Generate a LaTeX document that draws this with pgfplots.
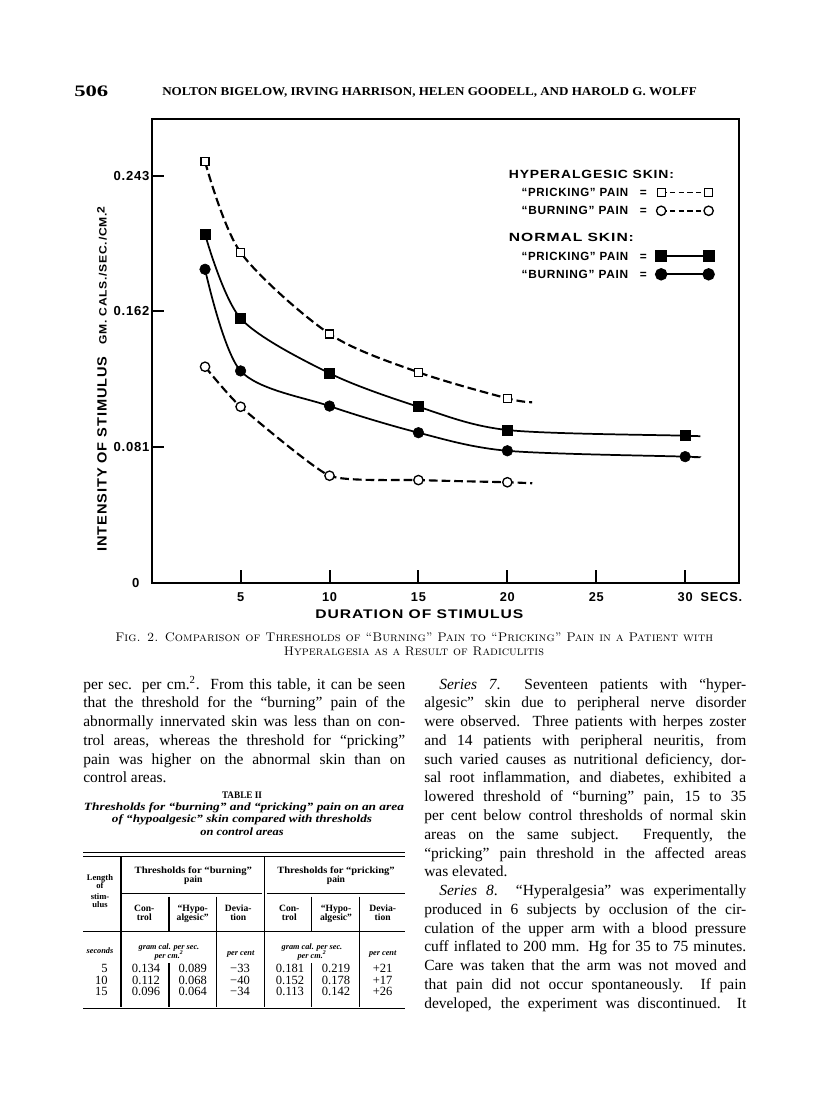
\documentclass[border=0pt]{standalone}
\usepackage{fontspec}
\usepackage{graphicx}
\usepackage{pgfplots}
\pgfplotsset{compat=1.18}
\newfontfamily\chartfont[LetterSpace=6]{Liberation Sans}
\newfontfamily\bodyfont{Liberation Serif}
\newcommand{\fitw}[2]{\resizebox{#1}{\height}{#2}}
\newcommand{\bt}{\bodyfont\fontsize{11.6}{13}\selectfont}
\newcommand{\jl}[3]{\node[anchor=base west,inner sep=0pt,font=\bt] at (#1,#2) {\makebox[241.5pt][s]{#3}};}
\newcommand{\jlw}[4]{\node[anchor=base west,inner sep=0pt,font=\bt] at (#1,#2) {\makebox[#3][s]{#4}};}
\newcommand{\lline}[3]{\node[anchor=base west,inner sep=0pt,font=\bt] at (#1,#2) {#3};}
\newcommand{\thd}{\bodyfont\bfseries\fontsize{7.2}{7.5}\selectfont}
\newcommand{\tst}{\bodyfont\bfseries\fontsize{6.4}{6.5}\selectfont}
\newcommand{\tun}{\bodyfont\bfseries\itshape\fontsize{6.2}{6.5}\selectfont}
\newcommand{\tdt}{\bodyfont\fontsize{9.4}{10}\selectfont}
\newcommand{\zerolab}{\makebox[13pt][l]{0}}
\begin{document}
\begin{tikzpicture}
\begin{scope}[x=0.75pt,y=-0.75pt]
\path (0,0) rectangle (816,1105);
% running head
\node[anchor=base west,inner sep=0pt,font=\bodyfont\bfseries\fontsize{12}{13}\selectfont] at (74,97) {\fitw{25.5pt}{506}};
\node[anchor=base west,inner sep=0pt,font=\bodyfont\bfseries\fontsize{9}{10}\selectfont] at (162,96) {\fitw{401pt}{NOLTON BIGELOW, IRVING HARRISON, HELEN GOODELL, AND HAROLD G. WOLFF}};
% axis labels
\node[anchor=base west,inner sep=0pt,rotate=90,font=\chartfont\bfseries\fontsize{10}{11}\selectfont] at (106.7,551.7) {\fitw{146.25pt}{INTENSITY OF STIMULUS}};
\node[anchor=base west,inner sep=0pt,rotate=90,font=\chartfont\bfseries\fontsize{8}{9}\selectfont] at (106.7,345) {\fitw{103.7pt}{GM. CALS./SEC./CM.\raisebox{1.5pt}{2}}};
\node[anchor=base west,inner sep=0pt,font=\chartfont\bfseries\fontsize{9.4}{10}\selectfont] at (315,618.3) {\fitw{156pt}{DURATION OF STIMULUS}};
% caption
\node[anchor=base west,inner sep=0pt,font=\fontsize{9.4}{10}\selectfont] at (115,641) {\fitw{448.5pt}{\textsc{Fig. 2. Comparison of Thresholds of “Burning” Pain to “Pricking” Pain in a Patient with}}};
\node[anchor=base,inner sep=0pt,font=\fontsize{9.4}{10}\selectfont] at (414,655.3) {\fitw{195pt}{\textsc{Hyperalgesia as a Result of Radiculitis}}};
% left column
\jl{83}{689}{per sec. per cm.\textsuperscript{2}.\ \ From this table, it can be seen}
\jl{83}{707.8}{that the threshold for the “burning” pain of the}
\jl{83}{726.6}{abnormally innervated skin was less than on con-}
\jl{83}{745.3}{trol areas, whereas the threshold for “pricking”}
\jl{83}{764.1}{pain was higher on the abnormal skin than on}
\lline{83}{782.9}{control areas.}
% table title
\node[anchor=base,inner sep=0pt,font=\bodyfont\bfseries\fontsize{7.5}{8}\selectfont] at (242,798) {\fitw{30pt}{TABLE II}};
\node[anchor=base,inner sep=0pt,font=\bodyfont\bfseries\itshape\fontsize{8.3}{9}\selectfont] at (244,810) {\fitw{240pt}{Thresholds for “burning” and “pricking” pain on an area}};
\node[anchor=base,inner sep=0pt,font=\bodyfont\bfseries\itshape\fontsize{8.3}{9}\selectfont] at (242,822.5) {\fitw{195pt}{of “hypoalgesic” skin compared with thresholds}};
\node[anchor=base,inner sep=0pt,font=\bodyfont\bfseries\itshape\fontsize{8.3}{9}\selectfont] at (242,835.5) {\scalebox{1.12}[1]{on control areas}};
% table rules
\begin{scope}[line width=0.8pt]
\draw (83,852.7) -- (405,852.7);
\draw (83,856.3) -- (405,856.3);
\draw (121,856.7) -- (121,1006.7);
\draw (264.3,856.7) -- (264.3,1006.7);
\draw (121,893.3) -- (261.7,893.3);
\draw (266.7,893.3) -- (405,893.3);
\draw (216.7,896.7) -- (216.7,1006.7);
\draw (359.3,896.7) -- (359.3,1006.7);
\draw (169,896.7) -- (169,931);
\draw (169,963) -- (169,1006.7);
\draw (311.7,896.7) -- (311.7,931);
\draw (311.7,963) -- (311.7,1006.7);
\draw (83,931.7) -- (405,931.7);
\draw (83,1008.3) -- (405,1008.3);
\end{scope}
% table header text
\begin{scope}[every node/.style={anchor=base,inner sep=0pt,font=\thd}]
\node at (193.3,873) {\fitw{88pt}{Thresholds for “burning”}};
\node at (193.3,882.5) {pain};
\node at (336,873) {\fitw{88pt}{Thresholds for “pricking”}};
\node at (336,882.5) {pain};
\node at (144.3,911.2) {Con-};
\node at (144.3,920.5) {trol};
\node at (192.7,911.2) {“Hypo-};
\node at (192.7,920.5) {algesic”};
\node at (238.3,911.2) {Devia-};
\node at (238.3,920.5) {tion};
\node at (289.3,911.2) {Con-};
\node at (289.3,920.5) {trol};
\node at (336,911.2) {“Hypo-};
\node at (336,920.5) {algesic”};
\node at (382.7,911.2) {Devia-};
\node at (382.7,920.5) {tion};
\end{scope}
\begin{scope}[every node/.style={anchor=base,inner sep=0pt,font=\tst}]
\node at (100,880.5) {Length};
\node at (100,888.3) {of};
\node at (100,899.5) {stim-};
\node at (100,907.5) {ulus};
\end{scope}
\begin{scope}[every node/.style={anchor=base,inner sep=0pt,font=\tun}]
\node at (100,953) {seconds};
\node at (169,949) {gram cal. per sec.};
\node at (169,958.3) {per cm.\textsuperscript{2}};
\node at (240.7,955) {per cent};
\node at (312,949) {gram cal. per sec.};
\node at (312,958.3) {per cm.\textsuperscript{2}};
\node at (382.7,955) {per cent};
\end{scope}
\begin{scope}[every node/.style={anchor=base,inner sep=0pt,font=\tdt}]
\node[anchor=base east] at (108,972.3) {5};
\node[anchor=base east] at (108,984) {10};
\node[anchor=base east] at (108,995.7) {15};
\node at (146,972.3) {0.134}; \node at (192.7,972.3) {0.089}; \node at (240,972.3) {−33};
\node at (290,972.3) {0.181}; \node at (336,972.3) {0.219}; \node at (382.7,972.3) {+21};
\node at (146,984) {0.112}; \node at (192.7,984) {0.068}; \node at (240,984) {−40};
\node at (290,984) {0.152}; \node at (336,984) {0.178}; \node at (382.7,984) {+17};
\node at (146,995.7) {0.096}; \node at (192.7,995.7) {0.064}; \node at (240,995.7) {−34};
\node at (290,995.7) {0.113}; \node at (336,995.7) {0.142}; \node at (382.7,995.7) {+26};
\end{scope}
% right column
\jlw{439}{689}{230.25pt}{\textit{Series 7}.\ \ Seventeen patients with “hyper-}
\jl{424}{707.8}{algesic” skin due to peripheral nerve disorder}
\jl{424}{726.6}{were observed.\ \ Three patients with herpes zoster}
\jl{424}{745.3}{and 14 patients with peripheral neuritis, from}
\jl{424}{764.1}{such varied causes as nutritional deficiency, dor-}
\jl{424}{782.9}{sal root inflammation, and diabetes, exhibited a}
\jl{424}{801.7}{lowered threshold of “burning” pain, 15 to 35}
\jl{424}{820.5}{per cent below control thresholds of normal skin}
\jl{424}{839.2}{areas on the same subject.\ \ Frequently, the}
\jl{424}{858.0}{“pricking” pain threshold in the affected areas}
\lline{424}{876.8}{was elevated.}
\jlw{439}{895.6}{230.25pt}{\textit{Series 8}.\ \ “Hyperalgesia” was experimentally}
\jl{424}{914.4}{produced in 6 subjects by occlusion of the cir-}
\jl{424}{933.1}{culation of the upper arm with a blood pressure}
\jl{424}{951.9}{cuff inflated to 200 mm. Hg for 35 to 75 minutes.}
\jl{424}{970.7}{Care was taken that the arm was not moved and}
\jl{424}{989.5}{that pain did not occur spontaneously.\ \ If pain}
\jl{424}{1008.3}{developed, the experiment was discontinued.\ \ It}
\end{scope}
\begin{axis}[
  at={(113.775pt,-437.025pt)}, anchor=south west,
  scale only axis, width=440.1pt, height=347.55pt,
  xmin=0, xmax=33, ymin=0, ymax=0.2768,
  axis line style={line width=1.5pt},
  tick style={line width=1.5pt, black},
  tick align=inside,
  major tick length=9.5pt,
  xtick={5,10,15,20,25,30},
  xticklabels={5,10,15,20,25,{30\rlap{\hspace{6pt}SECS.}}},
  ytick={0,0.081,0.162,0.243},
  yticklabels={\zerolab,0.081,0.162,0.243},
  xtick pos=lower, ytick pos=left,
  xticklabel style={anchor=north, inner sep=0pt, yshift=-7.5pt, font=\chartfont\bfseries\fontsize{9.6}{10}\selectfont},
  yticklabel style={anchor=east, inner sep=0pt, xshift=-1.5pt, font=\chartfont\bfseries\fontsize{9.8}{10}\selectfont},
  legend cell align=left,
  legend plot pos=right,
  legend image code/.code={\draw[#1] plot coordinates {(0pt,3pt) (35.6pt,3pt)};},
  legend style={draw=none, fill=none, inner sep=0pt, outer sep=0pt,
    at={(0.6077,0.8958)}, anchor=north west,
    cells={anchor=base west}, row sep=4.2pt, column sep=6.85pt,
    nodes={inner sep=0pt, text height=8pt, text depth=1.5pt},
    font=\chartfont\bfseries\fontsize{8.9}{9}\selectfont},
]
% hyperalgesic pricking
\addplot[black, line width=1.6pt, dash pattern=on 6.5pt off 3pt, smooth, tension=0.5, forget plot]
  coordinates {(3,0.2515)(5,0.1973)(10,0.1486)(15,0.1257)(20,0.1101)(21.4,0.1078)};
\addplot[only marks, mark=square*, mark size=3pt, mark options={fill=white, draw=black, line width=1pt}, forget plot]
  coordinates {(3,0.2515)(5,0.1973)(10,0.1486)(15,0.1257)(20,0.1101)};
% hyperalgesic burning
\addplot[black, line width=1.6pt, dash pattern=on 6.5pt off 3pt, smooth, tension=0.3, forget plot]
  coordinates {(3,0.1290)(5,0.1051)(10,0.0639)(15,0.0613)(20,0.0600)(21.4,0.0594)};
\addplot[only marks, mark=*, mark size=3.5pt, mark options={fill=white, draw=black, line width=1pt}, forget plot]
  coordinates {(3,0.1290)(5,0.1051)(10,0.0639)(15,0.0613)(20,0.0600)};
% normal pricking
\addplot[black, line width=1.3pt, smooth, tension=0.5, forget plot]
  coordinates {(3,0.2081)(5,0.1579)(10,0.1251)(15,0.1051)(20,0.0912)(30,0.0878)(30.6,0.0876)};
\addplot[only marks, mark=square*, mark size=3.75pt, mark options={fill=black, draw=black}, forget plot]
  coordinates {(3,0.2081)(5,0.1579)(10,0.1251)(15,0.1051)(20,0.0912)(30,0.0878)};
% normal burning
\addplot[black, line width=1.3pt, smooth, tension=0.5, forget plot]
  coordinates {(3,0.1872)(5,0.1265)(10,0.1055)(15,0.0896)(20,0.0788)(30,0.0753)(30.5,0.0750)};
\addplot[only marks, mark=*, mark size=4pt, mark options={fill=black, draw=black}, forget plot]
  coordinates {(3,0.1872)(5,0.1265)(10,0.1055)(15,0.0896)(20,0.0788)(30,0.0753)};
% legend
\addlegendimage{empty legend}
\addlegendentry{\rlap{\fitw{123.75pt}{HYPERALGESIC SKIN:}}}
\addlegendimage{black, line width=1.4pt, dash pattern=on 4pt off 2.5pt, mark=square*, mark size=3pt, mark options={solid, fill=white, line width=1pt}}
\addlegendentry{\makebox[103.8pt][l]{\hspace{10pt}\fitw{80pt}{“PRICKING” PAIN}\hfill =}}
\addlegendimage{black, line width=1.4pt, dash pattern=on 4pt off 2.5pt, mark=*, mark size=3.5pt, mark options={solid, fill=white, line width=1pt}}
\addlegendentry{\makebox[103.8pt][l]{\hspace{10pt}\fitw{80pt}{“BURNING” PAIN}\hfill =}}
\addlegendimage{empty legend}
\addlegendentry[text height=14.55pt]{\rlap{\fitw{93.75pt}{NORMAL SKIN:}}}
\addlegendimage{black, line width=1.3pt, mark=square*, mark size=3.75pt, mark options={fill=black}}
\addlegendentry{\makebox[103.8pt][l]{\hspace{10pt}\fitw{80pt}{“PRICKING” PAIN}\hfill =}}
\addlegendimage{black, line width=1.3pt, mark=*, mark size=4pt, mark options={fill=black}}
\addlegendentry{\makebox[103.8pt][l]{\hspace{10pt}\fitw{80pt}{“BURNING” PAIN}\hfill =}}
\end{axis}
\end{tikzpicture}
\end{document}
